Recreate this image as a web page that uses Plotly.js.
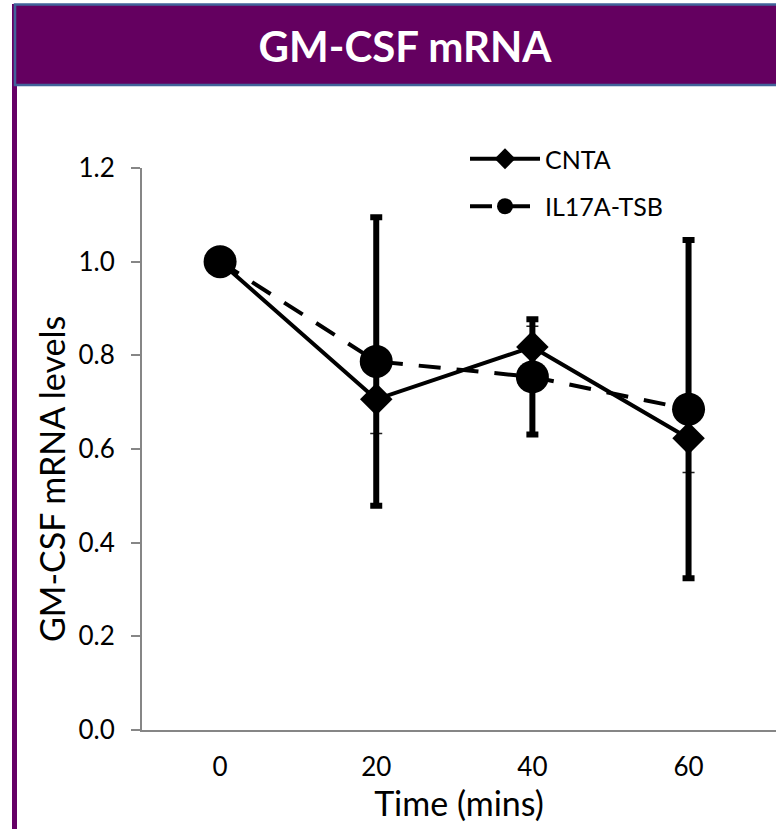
<!DOCTYPE html>
<html>
<head>
<meta charset="utf-8">
<script src="https://cdn.plot.ly/plotly-3.0.1.min.js"></script>
<style>
  html, body { margin: 0; padding: 0; background: #ffffff; }
  #chart { width: 776px; height: 829px; }
</style>
</head>
<body>
<div id="chart"></div>
<script>
// ---- data ----
var timeLabels = ['0', '20', '40', '60'];
var cntaValues = [1.0, 0.706, 0.818, 0.623];
var cntaErrors = [0, 0.073, 0.044, 0.073];
var il17Values = [1.0, 0.787, 0.754, 0.685];
var il17Errors = [0, 0.308, 0.123, 0.361];
var seriesNames = ['CNTA', 'IL17A-TSB'];
var chartTitle = 'GM-CSF mRNA';
var xTitle = 'Time (mins)';
var yTitle = 'GM-CSF mRNA levels';

// ---- geometry helpers (pixel -> paper) ----
var W = 776, H = 829;
var mL = 142, mR = 0, mT = 168, mB = 99;
var plotW = W - mL - mR, plotH = H - mT - mB;
function px(x) { return (x - mL) / plotW; }
function py(y) { return (H - mB - y) / plotH; }

var FONT = 'Lato, "Open Sans", sans-serif';
var PURPLE = '#640060';

var traces = [
  {
    x: timeLabels, y: cntaValues, name: seriesNames[0],
    type: 'scatter', mode: 'lines+markers',
    legendgroup: 'a',
    line: { color: '#000000', width: 4 },
    marker: { symbol: 'diamond', size: 25, color: '#000000' },
    error_y: { type: 'data', array: cntaErrors, visible: true, color: '#222222', thickness: 1.5, width: 6 }
  },
  {
    x: timeLabels, y: il17Values, name: seriesNames[1],
    type: 'scatter', mode: 'lines+markers',
    legendgroup: 'b',
    line: { color: '#000000', width: 4, dash: '22px,16px' },
    marker: { symbol: 'circle', size: 33, color: '#000000' },
    error_y: { type: 'data', array: il17Errors, visible: true, color: '#000000', thickness: 6, width: 6 }
  }
];

var layout = {
  width: W, height: H,
  margin: { l: mL, r: mR, t: mT, b: mB, pad: 0 },
  paper_bgcolor: '#ffffff', plot_bgcolor: '#ffffff',
  font: { family: FONT, color: '#000000', size: 26 },
  showlegend: true,
  title: {
    text: '<b>' + chartTitle + '</b>',
    font: { family: FONT, size: 42, color: '#ffffff' },
    xref: 'container', x: 405 / W, xanchor: 'center',
    yref: 'container', y: 1 - 47 / H, yanchor: 'middle'
  },
  xaxis: {
    type: 'category',
    range: [-0.5, 3.56],
    showline: true, linecolor: '#868686', linewidth: 2,
    ticks: '', showgrid: false, zeroline: false,
    tickfont: { family: FONT, size: 26, color: '#000000' },
    ticklabelstandoff: 13,
    title: { text: xTitle, font: { family: FONT, size: 34, color: '#000000' }, standoff: 6 }
  },
  yaxis: {
    range: [0, 1.2], dtick: 0.2, tick0: 0, tickformat: '.1f',
    showline: true, linecolor: '#868686', linewidth: 2,
    ticks: 'outside', ticklen: 9, tickcolor: '#868686', tickwidth: 2,
    showgrid: false, zeroline: false,
    tickfont: { family: FONT, size: 26, color: '#000000' },
    ticklabelstandoff: 11
  },
  legend: {
    x: px(465), xanchor: 'left',
    y: py(136), yanchor: 'top',
    bgcolor: 'rgba(0,0,0,0)',
    font: { family: FONT, size: 25, color: '#000000' },
    itemsizing: 'trace',
    itemwidth: 70,
    tracegroupgap: 12
  },
  annotations: [
    {
      text: yTitle, textangle: -90,
      xref: 'paper', yref: 'paper',
      x: px(52), y: py(479), xanchor: 'center', yanchor: 'middle',
      showarrow: false,
      font: { family: FONT, size: 34, color: '#000000' }
    }
  ],
  shapes: [
    // left purple stripe
    { type: 'rect', xref: 'paper', yref: 'paper', x0: px(12), x1: px(17), y0: py(4), y1: py(835),
      fillcolor: '#660066', line: { width: 0 } },
    // header band
    { type: 'rect', xref: 'paper', yref: 'paper', x0: px(15), x1: px(790), y0: py(4.5), y1: py(85),
      fillcolor: PURPLE, line: { color: '#41639a', width: 2.5 } }
  ]
};

Plotly.newPlot('chart', traces, layout, { displayModeBar: false, staticPlot: true });
</script>
</body>
</html>
